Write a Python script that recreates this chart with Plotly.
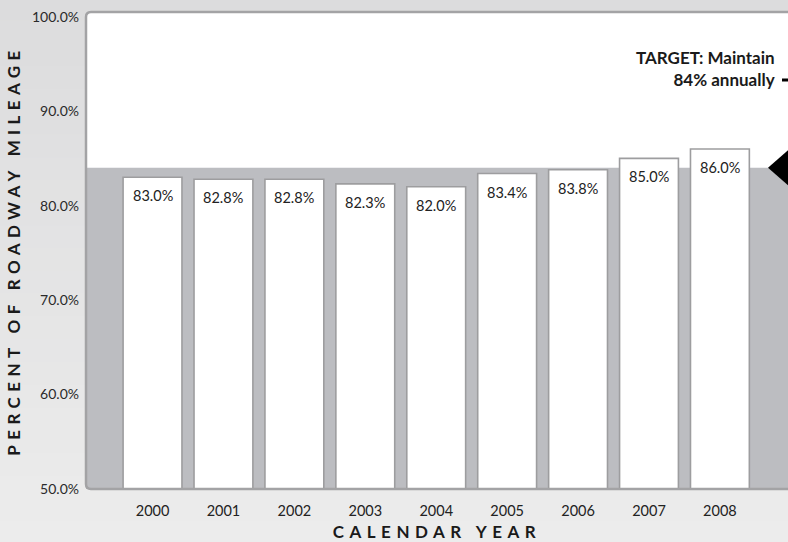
import plotly.graph_objects as go

# ---- data ----
years = ["2000", "2001", "2002", "2003", "2004", "2005", "2006", "2007", "2008"]
values = [83.0, 82.8, 82.8, 82.3, 82.0, 83.4, 83.8, 85.0, 86.0]
target = 84.0
y_tick_values = [50, 60, 70, 80, 90, 100]
y_tick_labels = ["50.0%", "60.0%", "70.0%", "80.0%", "90.0%", "100.0%"]
bar_labels = [f"{v:.1f}%" for v in values]

W, H = 788, 542
ML, MR, MT, MB = 86, 0, 12, 53
PW, PH = W - ML - MR, H - MT - MB

def px_x(p):  # pixel -> paper x
    return (p - ML) / PW

def px_y(p):  # pixel -> paper y
    return (H - MB - p) / PH

fig = go.Figure()

fig.add_trace(go.Bar(
    x=years, y=values, width=0.83,
    marker=dict(color="white", line=dict(color="#9d9d9f", width=1.6)),
    hoverinfo="x+y", showlegend=False,
))

shapes = []
# background vertical gradient (paper)
top_rgb = (220, 220, 221)
bot_rgb = (236, 236, 236)
N = 24
y_lo, y_hi = px_y(H + 2), px_y(-2)
for i in range(N):
    t = i / (N - 1)
    c = tuple(int(round(bot_rgb[k] + (top_rgb[k] - bot_rgb[k]) * t)) for k in range(3))
    y0 = y_lo + (y_hi - y_lo) * i / N
    y1 = y_lo + (y_hi - y_lo) * (i + 1) / N + 0.002
    shapes.append(dict(type="rect", xref="paper", yref="paper", x0=px_x(-2), x1=px_x(W + 2),
                       y0=y0, y1=y1, fillcolor="rgb(%d,%d,%d)" % c, line=dict(width=0),
                       layer="below"))
# white plot area
shapes.append(dict(type="rect", xref="paper", yref="paper", x0=0, x1=1.02, y0=0, y1=1,
                   fillcolor="white", line=dict(width=0), layer="below"))
# target band
shapes.append(dict(type="rect", xref="paper", yref="y", x0=0, x1=1.02, y0=40, y1=target,
                   fillcolor="#bcbdc1", line=dict(width=0), layer="below"))
# plot border with rounded left corners
rx, ry = 5 / PW, 5 / PH
border = (f"M 1.02,1 L {rx},1 Q 0,1 0,{1-ry} L 0,{ry} Q 0,0 {rx},0 L 1.02,0")
shapes.append(dict(type="path", xref="paper", yref="paper", path=border,
                   line=dict(color="#a3a3a5", width=2.5), layer="above"))
# target marker triangle
tip = px_x(768)
half = 21 * 50.5 / PH
shapes.append(dict(type="path", xref="paper", yref="y",
                   path=f"M {tip},{target} L {px_x(792)},{target + half} L {px_x(792)},{target - half} Z",
                   fillcolor="black", line=dict(width=0), layer="above"))
# small leader dash
shapes.append(dict(type="line", xref="paper", yref="paper", x0=px_x(782), x1=px_x(790),
                   y0=px_y(80), y1=px_y(80), line=dict(color="black", width=3), layer="above"))

annotations = []
for i, (v, lab) in enumerate(zip(values, bar_labels)):
    annotations.append(dict(x=i, y=v, xref="x", yref="y", text=lab, showarrow=False,
                            yanchor="top", yshift=-8,
                            font=dict(family="Lato, Open Sans, sans-serif", size=14.5, color="#222")))
annotations.append(dict(xref="paper", yref="paper", x=px_x(777), y=px_y(68),
                        xanchor="right", yanchor="middle", align="right", showarrow=False,
                        text="TARGET: Maintain<br>84% annually",
                        font=dict(family="Lato, Open Sans, sans-serif", size=17, color="#1a1a1a",
                                  weight="bold")))

title_font = dict(family="Lato, Open Sans, sans-serif", size=17, color="#1a1a1a", weight="bold")

fig.update_layout(
    width=W, height=H,
    margin=dict(l=ML, r=MR, t=MT, b=MB, autoexpand=False),
    paper_bgcolor="#e2e2e2", plot_bgcolor="rgba(0,0,0,0)",
    shapes=shapes, annotations=annotations,
    xaxis=dict(
        type="category", range=[-0.938, 8.96], showgrid=False, zeroline=False,
        showline=False, ticks="", ticklabelstandoff=11,
        tickfont=dict(family="Lato, Open Sans, sans-serif", size=14.5, color="#222"),
        title=dict(text='<span style="letter-spacing:5.5px">CALENDAR YEAR</span>',
                   font=title_font, standoff=8),
    ),
    yaxis=dict(
        range=[50, 100.5], tickvals=y_tick_values, ticktext=y_tick_labels,
        showgrid=False, zeroline=False, showline=False, ticks="", ticklabelstandoff=6,
        tickfont=dict(family="Lato, Open Sans, sans-serif", size=14, color="#2a2a2a"),
        title=dict(text='<span style="letter-spacing:5.4px">PERCENT OF ROADWAY MILEAGE</span>',
                   font=title_font, standoff=7),
    ),
)

fig.write_html("out.html", config={"displayModeBar": False},
               post_script="document.body.style.margin='0';document.body.style.overflow='hidden';")
